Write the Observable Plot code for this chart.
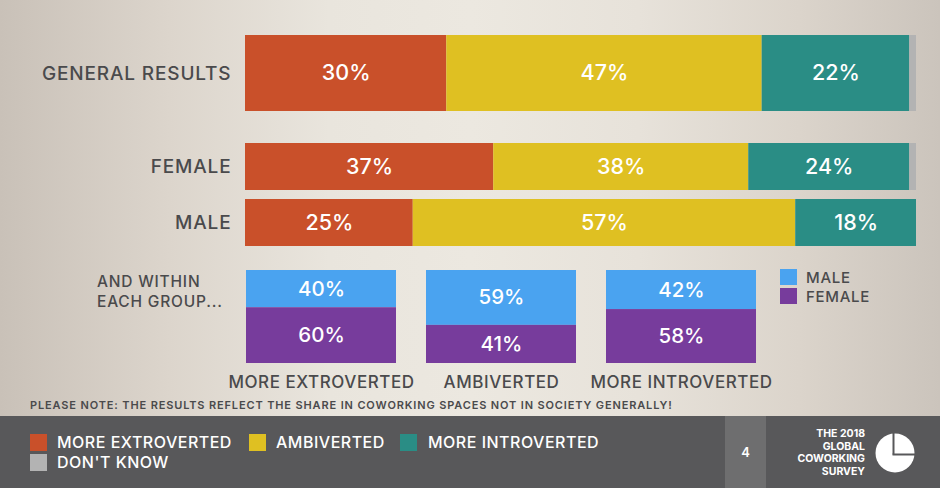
<!DOCTYPE html>
<html>
<head>
<meta charset="utf-8">
<script src="https://cdn.jsdelivr.net/npm/d3@7"></script>
<script src="https://cdn.jsdelivr.net/npm/@observablehq/plot@0.6"></script>
<style>
  html, body { margin: 0; padding: 0; }
  body { width: 940px; height: 488px; overflow: hidden; font-family: Inter, "Open Sans", sans-serif; }
  #page { position: relative; width: 940px; height: 488px;
    background: linear-gradient(to right, #c9c1b8 0%, #dcd5cc 18%, #e9e5dd 35%, #ece8e0 50%, #e7e2da 68%, #dbd4cb 85%, #cbc4bc 100%); }
  .lbl { color: #4a4a4c; font-weight: 500; white-space: nowrap; }
  .sw { position: absolute; width: 17px; height: 17px; }
  .ftxt { position: absolute; color: #ffffff; font-size: 16px; font-weight: 500; white-space: nowrap; line-height: 18px; letter-spacing: 0.5px; }
  svg [aria-label="y-axis tick label"] text { letter-spacing: 0.85px; }
  svg [aria-label="x-axis tick label"] text { letter-spacing: 0.55px; }
</style>
</head>
<body>
<div id="page"></div>
<script>
// ---- data ----
const segments = ["MORE EXTROVERTED", "AMBIVERTED", "MORE INTROVERTED", "DON'T KNOW"];
const segmentColors = ["#c9502a", "#dfc022", "#2a8d85", "#b3b3b3"];
const generalRow = ["GENERAL RESULTS"];
const generalValues = [30, 47, 22, 1];
const genderRows = ["FEMALE", "MALE"];
const femaleValues = [37, 38, 24, 1];
const maleValues = [25, 57, 18, 0];

const groups = ["MORE EXTROVERTED", "AMBIVERTED", "MORE INTROVERTED"];
const sexes = ["MALE", "FEMALE"];
const sexColors = ["#4aa3f0", "#773c9c"];
const maleShare = [40, 59, 42];
const femaleShare = [60, 41, 58];

const note = "PLEASE NOTE: THE RESULTS REFLECT THE SHARE IN COWORKING SPACES NOT IN SOCIETY GENERALLY!";
const pageNumber = "4";
const logoLines = ["THE 2018", "GLOBAL", "COWORKING", "SURVEY"];

// ---- tables ----
const genData = segments.map((s, i) => ({row: generalRow[0], cat: s, value: generalValues[i]}));
const genderData = [
  ...segments.map((s, i) => ({row: "FEMALE", cat: s, value: femaleValues[i]})),
  ...segments.map((s, i) => ({row: "MALE", cat: s, value: maleValues[i]}))
];
const groupData = [];
groups.forEach((g, i) => {
  groupData.push({group: g, sex: "MALE", value: maleShare[i]});
  groupData.push({group: g, sex: "FEMALE", value: femaleShare[i]});
});

const page = document.getElementById("page");
const FONT = "Inter, 'Open Sans', sans-serif";
const pct = d => d.value >= 5 ? d.value + "%" : "";

function place(node, top, left) {
  node.style.position = "absolute";
  node.style.top = top + "px";
  node.style.left = left + "px";
  page.appendChild(node);
}

function barChart(data, rows, height, padding) {
  return Plot.plot({
    width: 940, height,
    marginLeft: 245, marginRight: 24, marginTop: 0, marginBottom: 0,
    x: {domain: [0, 100], axis: null},
    y: {domain: rows, paddingInner: padding, paddingOuter: 0, label: null, axis: null},
    color: {domain: segments, range: segmentColors},
    style: {background: "transparent", fontFamily: FONT, color: "#4a4a4c", overflow: "visible"},
    marks: [
      Plot.barX(data, Plot.stackX({x: "value", y: "row", fill: "cat", z: "cat"})),
      Plot.text(data, Plot.stackX({x: "value", y: "row", z: "cat", text: pct,
        fill: "white", fontSize: 21.5, fontWeight: 500})),
      Plot.axisY({tickSize: 0, tickPadding: 14, fontSize: 19, fontWeight: 500, label: null})
    ]
  });
}

place(barChart(genData, generalRow, 76, 0), 35, 0);
place(barChart(genderData, genderRows, 103, 9 / 56), 143, 0);

const boxes = Plot.plot({
  width: 940, height: 145,
  marginLeft: 245, marginRight: 183, marginTop: 20, marginBottom: 32,
  x: {domain: groups, paddingInner: 30 / 181, paddingOuter: 0, label: null},
  y: {domain: [0, 100], reverse: true, axis: null},
  color: {domain: sexes, range: sexColors},
  style: {background: "transparent", fontFamily: FONT, color: "#4a4a4c", overflow: "visible"},
  marks: [
    Plot.barY(groupData, Plot.stackY({x: "group", y: "value", fill: "sex", z: "sex"})),
    Plot.text(groupData, Plot.stackY({x: "group", y: "value", z: "sex", text: pct,
      fill: "white", fontSize: 20.5, fontWeight: 500})),
    Plot.axisX({tickSize: 0, tickPadding: 12, fontSize: 17, fontWeight: 500, label: null})
  ]
});
place(boxes, 250, 0);

// "AND WITHIN EACH GROUP..."
const aw = document.createElement("div");
aw.className = "lbl";
aw.style.fontSize = "15.5px";
aw.style.letterSpacing = "0.8px";
aw.style.lineHeight = "20px";
aw.innerHTML = "AND WITHIN<br>EACH GROUP...";
place(aw, 272, 97);

// male / female legend
sexes.forEach((s, i) => {
  const sw = document.createElement("div");
  sw.className = "sw";
  sw.style.width = "17px"; sw.style.height = "16px";
  sw.style.background = sexColors[i];
  place(sw, 269 + i * 19, 780);
  const t = document.createElement("div");
  t.className = "lbl";
  t.style.fontSize = "15px";
  t.style.letterSpacing = "0.7px";
  t.style.lineHeight = "19px";
  t.textContent = s;
  place(t, 268 + i * 19, 806);
});

// note
const nt = document.createElement("div");
nt.className = "lbl";
nt.style.fontSize = "11px";
nt.style.fontWeight = "600";
nt.style.letterSpacing = "0.86px";
nt.textContent = note;
place(nt, 398, 30);

// footer
const footer = document.createElement("div");
footer.style.width = "940px"; footer.style.height = "72px";
footer.style.background = "#58585a";
place(footer, 416, 0);

const pn = document.createElement("div");
pn.style.width = "41px"; pn.style.height = "72px";
pn.style.background = "#6e6e6f";
pn.style.color = "#fff"; pn.style.fontSize = "13px"; pn.style.fontWeight = "600";
pn.style.display = "flex"; pn.style.alignItems = "center"; pn.style.justifyContent = "center";
pn.textContent = pageNumber;
place(pn, 416, 725);

// footer legend
const legendPos = [
  {sx: 30, sy: 434, tx: 57},
  {sx: 249, sy: 434, tx: 276},
  {sx: 400, sy: 434, tx: 428},
  {sx: 30, sy: 454, tx: 57}
];
segments.forEach((s, i) => {
  const p = legendPos[i];
  const sw = document.createElement("div");
  sw.className = "sw";
  sw.style.background = segmentColors[i];
  place(sw, p.sy, p.sx);
  const t = document.createElement("div");
  t.className = "ftxt";
  t.textContent = s;
  place(t, p.sy - 1, p.tx);
});

// logo text (one block per line)
logoLines.forEach((line, i) => {
  const d = document.createElement("div");
  d.style.color = "#fff"; d.style.fontSize = "10.5px"; d.style.fontWeight = "700";
  d.style.lineHeight = "12px"; d.style.height = "12px"; d.style.textAlign = "right"; d.style.width = "120px";
  d.textContent = line;
  place(d, 428 + i * 12.5, 745);
});

// logo pie
const ns = "http://www.w3.org/2000/svg";
const ls = document.createElementNS(ns, "svg");
ls.setAttribute("width", "44"); ls.setAttribute("height", "44");
ls.innerHTML = '<circle cx="22" cy="22" r="19.5" fill="#fff"/>' +
  '<line x1="20.5" y1="23.5" x2="20.5" y2="0" stroke="#58585a" stroke-width="2"/>' +
  '<line x1="19.5" y1="23.5" x2="44" y2="23.5" stroke="#58585a" stroke-width="2"/>';
ls.style.position = "absolute"; ls.style.left = "873px"; ls.style.top = "431px";
page.appendChild(ls);
</script>
</body>
</html>
